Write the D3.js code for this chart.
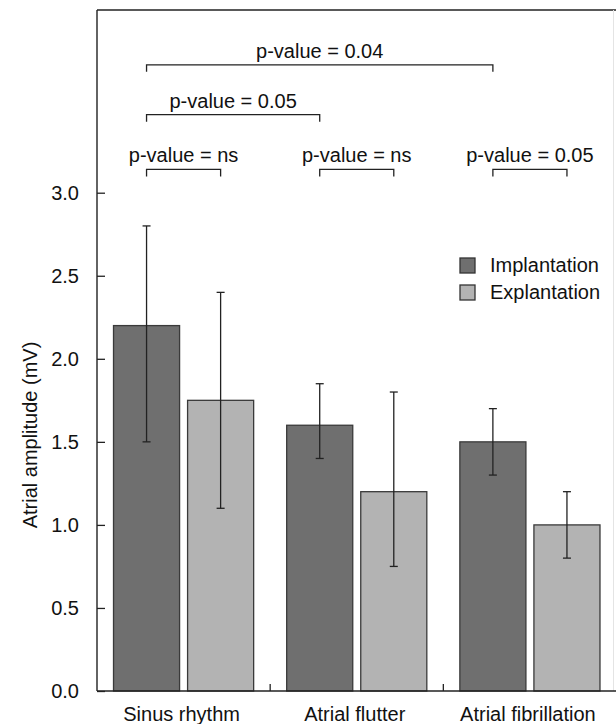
<!DOCTYPE html>
<html>
<head>
<meta charset="utf-8">
<script src="https://cdn.jsdelivr.net/npm/d3@7"></script>
<style>
  body { margin: 0; background: #fff; }
  text { font-family: "Liberation Sans", Arial, sans-serif; fill: #111; }
</style>
</head>
<body>
<div id="chart"></div>
<script>
// data
var categories = ["Sinus rhythm", "Atrial flutter", "Atrial fibrillation"];
var series = ["Implantation", "Explantation"];
var means = [[2.2, 1.75], [1.6, 1.2], [1.5, 1.0]];
var lows = [[1.5, 1.1], [1.4, 0.75], [1.3, 0.8]];
var highs = [[2.8, 2.4], [1.85, 1.8], [1.7, 1.2]];
var yTicks = [0, 0.5, 1, 1.5, 2, 2.5, 3];
// brackets: [category, series] from -> to, level value, label
var brackets = [
  { from: [0, 0], to: [2, 0], level: 3.77, label: "p-value = 0.04" },
  { from: [0, 0], to: [1, 0], level: 3.47, label: "p-value = 0.05" },
  { from: [0, 0], to: [0, 1], level: 3.14, label: "p-value = ns" },
  { from: [1, 0], to: [1, 1], level: 3.14, label: "p-value = ns" },
  { from: [2, 0], to: [2, 1], level: 3.14, label: "p-value = 0.05" }
];
var colors = ["#6f6f6f", "#b3b3b3"];

var width = 616, height = 724;
var plotLeft = 97, plotRight = 616.5, plotTop = 10, plotBottom = 691;

var svg = d3.select("#chart")
  .append("svg")
  .attr("width", width)
  .attr("height", height);

var x0 = d3.scaleBand().domain(categories).range([plotLeft, plotRight]);
var x1 = d3.scaleBand().domain(series).range([0, x0.bandwidth()])
  .paddingInner(0.108).paddingOuter(0.223);
var y = d3.scaleLinear().domain([0, 4.1]).range([plotBottom, plotTop]);

function cx(ci, si) {
  return x0(categories[ci]) + x1(series[si]) + x1.bandwidth() / 2;
}

//frame
var ink = "#222";
svg.append("line").attr("x1", plotLeft).attr("x2", width).attr("y1", plotTop).attr("y2", plotTop)
  .attr("stroke", ink).attr("stroke-width", 1.4);
svg.append("line").attr("x1", width - 2.5).attr("x2", width - 2.5).attr("y1", plotTop).attr("y2", plotBottom)
  .attr("stroke", "#e4e4e4").attr("stroke-width", 1);

//bars
var groups = svg.selectAll("g.cat")
  .data(categories)
  .enter().append("g")
  .attr("class", "cat")
  .attr("transform", function(d) { return "translate(" + x0(d) + ",0)"; });

groups.each(function(c, ci) {
  var g = d3.select(this);
  series.forEach(function(s, si) {
    g.append("rect")
      .attr("x", x1(s))
      .attr("y", y(means[ci][si]))
      .attr("width", x1.bandwidth())
      .attr("height", y(0) - y(means[ci][si]))
      .attr("fill", colors[si])
      .attr("stroke", "#3a3a3a")
      .attr("stroke-width", 1.3);
    var mx = x1(s) + x1.bandwidth() / 2;
    g.append("line").attr("x1", mx).attr("x2", mx)
      .attr("y1", y(lows[ci][si])).attr("y2", y(highs[ci][si]))
      .attr("stroke", ink).attr("stroke-width", 1.3);
    [lows[ci][si], highs[ci][si]].forEach(function(v) {
      g.append("line").attr("x1", mx - 4).attr("x2", mx + 4)
        .attr("y1", y(v)).attr("y2", y(v))
        .attr("stroke", ink).attr("stroke-width", 1.3);
    });
  });
});

//y axis
var yAxis = d3.axisLeft(y).tickValues(yTicks).tickFormat(d3.format(".1f"))
  .tickSizeInner(-8).tickSizeOuter(0).tickPadding(18);
var ya = svg.append("g").attr("transform", "translate(" + plotLeft + ",0)").call(yAxis);
ya.select(".domain").attr("stroke", ink).attr("stroke-width", 1.4)
  .attr("d", "M0," + plotTop + "V" + plotBottom);
ya.selectAll(".tick line").attr("stroke", ink).attr("stroke-width", 1.3);
ya.selectAll(".tick text").style("font-size", "20px")
  .style("font-family", "'Liberation Sans', Arial, sans-serif").attr("fill", "#111");

//x axis
svg.append("line").attr("x1", plotLeft).attr("x2", width).attr("y1", plotBottom).attr("y2", plotBottom)
  .attr("stroke", ink).attr("stroke-width", 1.4);
categories.slice(1).forEach(function(c) {
  svg.append("line").attr("x1", x0(c)).attr("x2", x0(c))
    .attr("y1", plotBottom).attr("y2", plotBottom - 7)
    .attr("stroke", ink).attr("stroke-width", 1.3);
});
svg.selectAll("text.cat")
  .data(categories)
  .enter().append("text")
  .attr("class", "cat")
  .attr("x", function(d) { return x0(d) + x0.bandwidth() / 2 - 2; })
  .attr("y", 721)
  .attr("text-anchor", "middle")
  .style("font-size", "20px")
  .text(function(d) { return d; });

//y title
svg.append("text")
  .attr("transform", "translate(37,435) rotate(-90)")
  .attr("text-anchor", "middle")
  .style("font-size", "20px")
  .text("Atrial amplitude (mV)");

//significance brackets
brackets.forEach(function(b) {
  var xa = cx(b.from[0], b.from[1]), xb = cx(b.to[0], b.to[1]), yl = y(b.level);
  svg.append("path")
    .attr("d", "M" + xa + "," + (yl + 7) + "V" + yl + "H" + xb + "V" + (yl + 7))
    .attr("fill", "none").attr("stroke", ink).attr("stroke-width", 1.3);
  svg.append("text")
    .attr("x", (xa + xb) / 2)
    .attr("y", yl - 7)
    .attr("text-anchor", "middle")
    .style("font-size", "20px")
    .text(b.label);
});

//legend
var legend = svg.append("g").attr("transform", "translate(460,258)");
series.forEach(function(s, i) {
  legend.append("rect")
    .attr("x", 0).attr("y", i * 27)
    .attr("width", 15).attr("height", 15)
    .attr("fill", colors[i]).attr("stroke", "#333").attr("stroke-width", 1.3);
  legend.append("text")
    .attr("x", 30).attr("y", i * 27 + 14)
    .style("font-size", "20px")
    .text(s);
});
</script>
</body>
</html>
